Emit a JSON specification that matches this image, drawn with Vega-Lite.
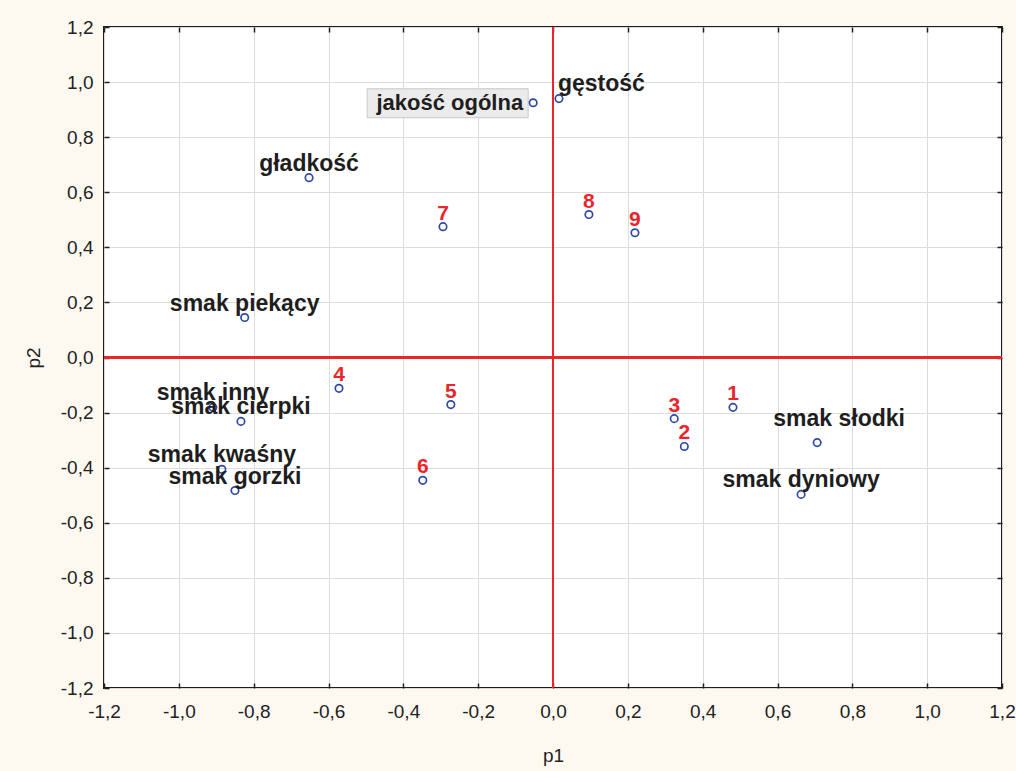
{
  "$schema": "https://vega.github.io/schema/vega-lite/v6.json",
  "width": 898,
  "height": 661,
  "autosize": {"type": "none"},
  "padding": {"left": 104, "top": 27, "right": 14, "bottom": 83},
  "background": "#fdf9f1",
  "config": {
    "view": {"fill": "white", "stroke": "#1e1e1e", "strokeWidth": 2},
    "font": "Liberation Sans",
    "axis": {
      "gridColor": "#dcdcdc",
      "gridWidth": 1,
      "domain": false,
      "tickColor": "#1e1e1e",
      "tickWidth": 1.5,
      "tickSize": -5,
      "labelFont": "Liberation Sans",
      "labelFontSize": 19,
      "labelColor": "#222222",
      "labelFlush": false,
      "labelOverlap": false,
      "titleFont": "Liberation Sans",
      "titleFontSize": 19,
      "titleFontWeight": "normal",
      "titleColor": "#222222"
    }
  },
  "data": {
    "values": [
      {"name": "jakość ogólna", "kind": "var", "p1": -0.053, "p2": 0.925},
      {"name": "gęstość", "kind": "var", "p1": 0.016, "p2": 0.94},
      {"name": "gładkość", "kind": "var", "p1": -0.652, "p2": 0.653},
      {"name": "smak piekący", "kind": "var", "p1": -0.824, "p2": 0.145},
      {"name": "smak inny", "kind": "var", "p1": -0.909, "p2": -0.181},
      {"name": "smak cierpki", "kind": "var", "p1": -0.834, "p2": -0.232},
      {"name": "smak kwaśny", "kind": "var", "p1": -0.885, "p2": -0.406},
      {"name": "smak gorzki", "kind": "var", "p1": -0.85, "p2": -0.483},
      {"name": "smak słodki", "kind": "var", "p1": 0.706, "p2": -0.309},
      {"name": "smak dyniowy", "kind": "var", "p1": 0.663, "p2": -0.497},
      {"name": "1", "kind": "obs", "p1": 0.481, "p2": -0.181},
      {"name": "2", "kind": "obs", "p1": 0.351, "p2": -0.323},
      {"name": "3", "kind": "obs", "p1": 0.324, "p2": -0.222},
      {"name": "4", "kind": "obs", "p1": -0.572, "p2": -0.112},
      {"name": "5", "kind": "obs", "p1": -0.273, "p2": -0.171},
      {"name": "6", "kind": "obs", "p1": -0.348, "p2": -0.446},
      {"name": "7", "kind": "obs", "p1": -0.294, "p2": 0.475},
      {"name": "8", "kind": "obs", "p1": 0.096, "p2": 0.519},
      {"name": "9", "kind": "obs", "p1": 0.219, "p2": 0.453}
    ]
  },
  "layer": [
    {
      "mark": {"type": "rule", "color": "#e8262b", "strokeWidth": 1.8},
      "encoding": {
        "x": {"datum": 0, "type": "quantitative", "scale": {"domain": [-1.2, 1.2], "nice": false, "zero": false}, "axis": null}
      }
    },
    {
      "mark": {"type": "rule", "color": "#e8262b", "strokeWidth": 1.8},
      "encoding": {
        "y": {"datum": 0, "type": "quantitative", "scale": {"domain": [-1.2, 1.2], "nice": false, "zero": false}, "axis": null}
      }
    },
    {
      "transform": [{"filter": "datum.name == 'jakość ogólna'"}],
      "mark": {"type": "point", "shape": "M -1.66 -0.14 L -0.05 -0.14 L -0.05 0.15 L -1.66 0.15 Z", "size": 40000, "filled": true, "fill": "#ebebeb", "stroke": "#c8c8c8", "strokeWidth": 1, "opacity": 1},
      "encoding": {
        "x": {"field": "p1", "type": "quantitative", "scale": {"domain": [-1.2, 1.2], "nice": false, "zero": false},
          "axis": {"orient": "top", "labels": false, "grid": false, "title": null, "values": [-1.2, -1.0, -0.8, -0.6, -0.4, -0.2, 0, 0.2, 0.4, 0.6, 0.8, 1.0, 1.2]}},
        "y": {"field": "p2", "type": "quantitative", "scale": {"domain": [-1.2, 1.2], "nice": false, "zero": false},
          "axis": {"orient": "right", "labels": false, "grid": false, "title": null, "values": [-1.2, -1.0, -0.8, -0.6, -0.4, -0.2, 0, 0.2, 0.4, 0.6, 0.8, 1.0, 1.2]}}
      }
    },
    {
      "mark": {"type": "point", "shape": "circle", "size": 55, "filled": false, "stroke": "#2f48a8", "strokeWidth": 1.7, "opacity": 1},
      "encoding": {
        "x": {"field": "p1", "type": "quantitative", "scale": {"domain": [-1.2, 1.2], "nice": false, "zero": false},
          "axis": {"orient": "bottom", "grid": true, "title": "p1", "labelPadding": 19, "titleY": 67, "titleBaseline": "middle",
            "values": [-1.2, -1.0, -0.8, -0.6, -0.4, -0.2, 0, 0.2, 0.4, 0.6, 0.8, 1.0, 1.2],
            "labelExpr": "replace(replace(format(datum.value, '.1f'), '.', ','), '−', '-')"}},
        "y": {"field": "p2", "type": "quantitative", "scale": {"domain": [-1.2, 1.2], "nice": false, "zero": false},
          "axis": {"orient": "left", "grid": true, "title": "p2", "labelPadding": 16, "titleX": -71, "titleBaseline": "middle",
            "values": [-1.2, -1.0, -0.8, -0.6, -0.4, -0.2, 0, 0.2, 0.4, 0.6, 0.8, 1.0, 1.2],
            "labelExpr": "replace(replace(format(datum.value, '.1f'), '.', ','), '−', '-')"}}
      }
    },
    {
      "transform": [{"filter": "datum.kind == 'var' && datum.name != 'jakość ogólna' && datum.name != 'gęstość' && datum.name != 'smak słodki'"}],
      "mark": {"type": "text", "font": "Liberation Sans", "fontWeight": "bold", "fontSize": 23, "color": "#1e1e1e", "baseline": "middle", "align": "center", "dy": -14},
      "encoding": {
        "x": {"field": "p1", "type": "quantitative", "axis": null},
        "y": {"field": "p2", "type": "quantitative", "axis": null},
        "text": {"field": "name"}
      }
    },
    {
      "transform": [{"filter": "datum.name == 'jakość ogólna'"}],
      "mark": {"type": "text", "font": "Liberation Sans", "fontWeight": "bold", "fontSize": 22, "color": "#1e1e1e", "baseline": "middle", "align": "right", "dx": -10, "dy": 0},
      "encoding": {
        "x": {"field": "p1", "type": "quantitative", "axis": null},
        "y": {"field": "p2", "type": "quantitative", "axis": null},
        "text": {"field": "name"}
      }
    },
    {
      "transform": [{"filter": "datum.name == 'gęstość'"}],
      "mark": {"type": "text", "font": "Liberation Sans", "fontWeight": "bold", "fontSize": 23, "color": "#1e1e1e", "baseline": "middle", "align": "left", "dx": -1, "dy": -15},
      "encoding": {
        "x": {"field": "p1", "type": "quantitative", "axis": null},
        "y": {"field": "p2", "type": "quantitative", "axis": null},
        "text": {"field": "name"}
      }
    },
    {
      "transform": [{"filter": "datum.name == 'smak słodki'"}],
      "mark": {"type": "text", "font": "Liberation Sans", "fontWeight": "bold", "fontSize": 23, "color": "#1e1e1e", "baseline": "middle", "align": "center", "dx": 22, "dy": -24},
      "encoding": {
        "x": {"field": "p1", "type": "quantitative", "axis": null},
        "y": {"field": "p2", "type": "quantitative", "axis": null},
        "text": {"field": "name"}
      }
    },
    {
      "transform": [{"filter": "datum.kind == 'obs'"}],
      "mark": {"type": "text", "font": "Liberation Sans", "fontWeight": "bold", "fontSize": 21, "color": "#e8262b", "baseline": "middle", "align": "center", "dy": -13},
      "encoding": {
        "x": {"field": "p1", "type": "quantitative", "axis": null},
        "y": {"field": "p2", "type": "quantitative", "axis": null},
        "text": {"field": "name"}
      }
    }
  ],
  "resolve": {"axis": {"x": "independent", "y": "independent"}}
}
